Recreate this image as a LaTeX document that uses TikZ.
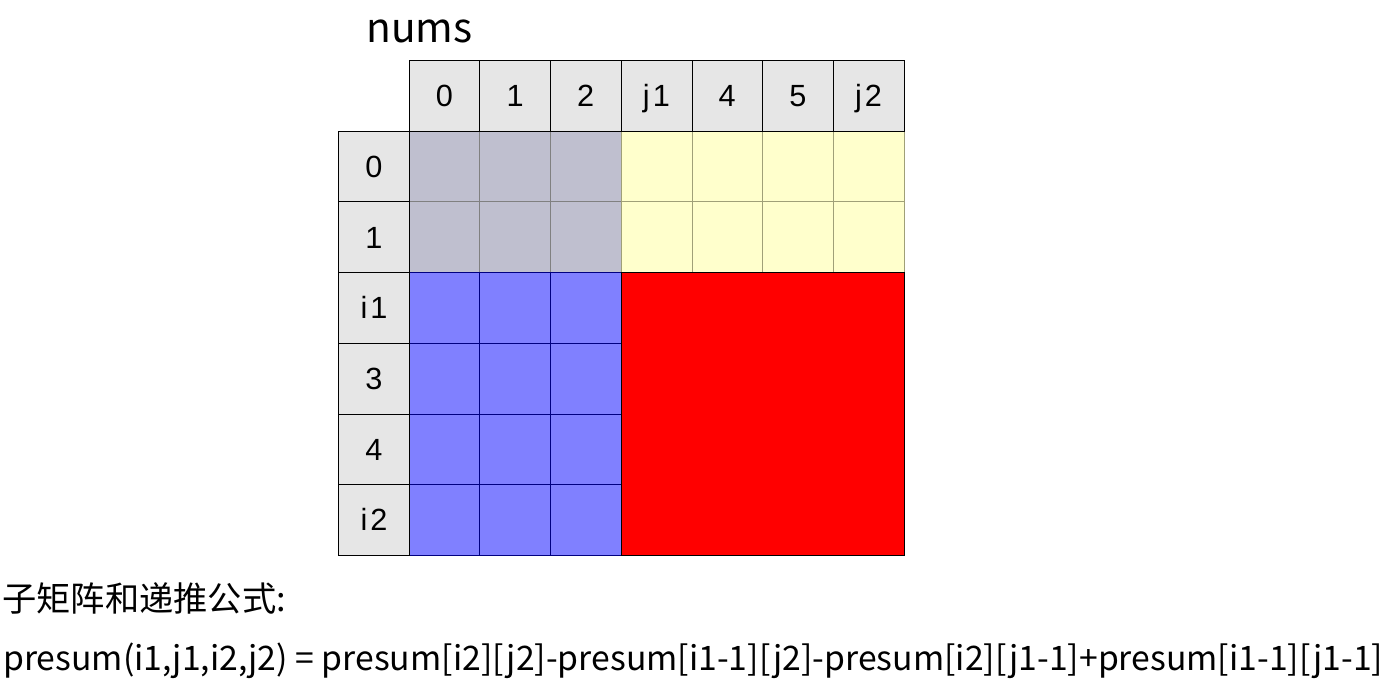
\documentclass[tikz,border=0pt]{standalone}
\usepackage{fontspec}
\setmainfont{Liberation Sans}
\newfontfamily\cjk{Noto Sans CJK SC}
\usepackage{xcolor}
\usetikzlibrary{positioning}

\definecolor{hdrgray}{HTML}{E6E6E6}
\definecolor{topleft}{HTML}{BFBFCF}
\definecolor{topright}{HTML}{FFFFCC}
\definecolor{rightline}{HTML}{A0A078}
\definecolor{bottomleft}{HTML}{8080FF}
\definecolor{leftline}{HTML}{000080}

\tikzset{
  hdr/.style={draw=black, fill=hdrgray, minimum size=53pt, inner sep=0pt,
    text height=16.5pt, text depth=0pt, font=\fontsize{23}{23}\selectfont},
  cellbox/.style={minimum size=53pt, inner sep=0pt},
  graycell/.style={cellbox, draw=gray, fill=topleft},
  yellowcell/.style={cellbox, draw=rightline, fill=topright},
  bluecell/.style={cellbox, draw=leftline, fill=bottomleft},
  redblock/.style={draw=black, fill=red},
  caption/.style={anchor=base west, inner sep=0pt, font=\cjk\fontsize{25.7}{27}\selectfont}
}

\begin{document}
\begin{tikzpicture}[x=0.75pt,y=-0.75pt]
\useasboundingbox (0,0) rectangle (1400,681);
\def\cs{70.7}
% title
\node[font=\cjk\fontsize{30.5}{32}\selectfont, anchor=base west, inner sep=0pt] (title) at (366,43) {nums};
% body cells
\foreach \r in {0,1} {
  \foreach \c in {0,1,2}
    \node[graycell] (cell\r\c) at ({409+\cs*(\c+0.5)},{131+\cs*(\r+0.5)}) {};
  \foreach \c in {3,4,5,6}
    \node[yellowcell] (cell\r\c) at ({409+\cs*(\c+0.5)},{131+\cs*(\r+0.5)}) {};
}
\foreach \r in {2,3,4,5}
  \foreach \c in {0,1,2}
    \node[bluecell] (cell\r\c) at ({409+\cs*(\c+0.5)},{131+\cs*(\r+0.5)}) {};
% sub-matrix
\draw[redblock] ({409+3*\cs},{131+2*\cs}) rectangle ({409+7*\cs},{131+6*\cs});
% column headers
\foreach \lab [count=\k from 0] in {0,1,2,j\kern.1em 1,4,5,j\kern.1em 2}
  \node[hdr] (col\k) at ({409+\cs*(\k+0.5)},96) {\lab};
% row headers
\foreach \lab [count=\k from 0] in {0,1,i\kern.1em 1,3,4,i\kern.1em 2}
  \node[hdr] (row\k) at (374,{131+\cs*(\k+0.5)}) {\lab};
% formula
\node[caption] (label) at (2,611) {子矩阵和递推公式:};
\node[caption, font=\cjk\fontsize{25.3}{27}\selectfont] (formula) at (3,670) {presum(i1,j1,i2,j2) = presum[i2][j2]-presum[i1-1][j2]-presum[i2][j1-1]+presum[i1-1][j1-1]};
\end{tikzpicture}
\end{document}
